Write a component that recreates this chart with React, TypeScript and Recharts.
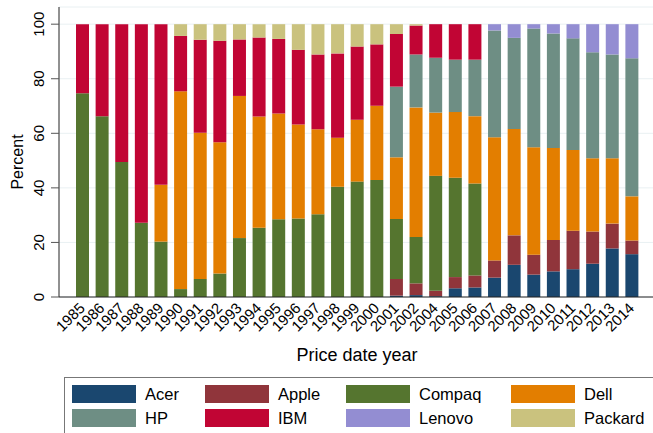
import React from 'react';
import { BarChart, Bar, XAxis, YAxis, CartesianGrid, Label } from 'recharts';

const years = [
  '1985', '1986', '1987', '1988', '1989', '1990', '1991', '1992', '1993', '1994',
  '1995', '1996', '1997', '1998', '1999', '2000', '2001', '2002', '2004', '2005',
  '2006', '2007', '2008', '2009', '2010', '2011', '2012', '2013', '2014',
];

const acer = [0, 0, 0, 0, 0, 0, 0, 0, 0, 0, 0, 0, 0, 0, 0, 0, 0.5, 0.7, 0.3, 3.2, 3.5, 7.1, 11.8, 8.2, 9.4, 10.2, 12.2, 17.8, 15.7];
const apple = [0, 0, 0, 0, 0, 0, 0, 0, 0, 0, 0, 0, 0, 0, 0, 0, 6.1, 4.3, 2.0, 4.1, 4.4, 6.3, 10.8, 7.3, 11.5, 14.1, 11.8, 9.1, 5.0];
const compaq = [74.7, 66.3, 49.5, 27.2, 20.3, 2.9, 6.6, 8.6, 21.6, 25.4, 28.5, 28.8, 30.3, 40.4, 42.3, 42.9, 22.0, 17.0, 42.1, 36.4, 33.7, 0, 0, 0, 0, 0, 0, 0, 0];
const dell = [0, 0, 0, 0, 20.8, 72.5, 53.6, 48.1, 52.1, 40.8, 38.8, 34.4, 31.2, 18.0, 22.7, 27.2, 22.6, 47.5, 23.2, 24.1, 24.7, 45.2, 39.0, 39.4, 33.7, 29.6, 26.9, 24.0, 16.2];
const hp = [0, 0, 0, 0, 0, 0, 0, 0, 0, 0, 0, 0, 0, 0, 0, 0, 25.9, 19.4, 20.1, 19.2, 20.7, 39.1, 33.4, 43.5, 42.0, 40.9, 38.8, 38.0, 50.6];
const ibm = [25.3, 33.7, 50.5, 72.8, 58.9, 20.3, 34.1, 37.2, 20.7, 28.9, 27.3, 27.4, 27.4, 30.9, 26.8, 22.5, 19.3, 10.6, 12.3, 13.0, 13.0, 0, 0, 0, 0, 0, 0, 0, 0];
const lenovo = [0, 0, 0, 0, 0, 0, 0, 0, 0, 0, 0, 0, 0, 0, 0, 0, 0, 0, 0, 0, 0, 2.3, 5.0, 1.6, 3.4, 5.2, 10.3, 11.1, 12.5];
const packard = [0, 0, 0, 0, 0, 4.3, 5.7, 6.1, 5.6, 4.9, 5.4, 9.4, 11.1, 10.7, 8.2, 7.4, 3.6, 0.5, 0, 0, 0, 0, 0, 0, 0, 0, 0, 0, 0];

const yTicks = [0, 20, 40, 60, 80, 100];

const series = [
  { key: 'Acer', values: acer },
  { key: 'Apple', values: apple },
  { key: 'Compaq', values: compaq },
  { key: 'Dell', values: dell },
  { key: 'HP', values: hp },
  { key: 'IBM', values: ibm },
  { key: 'Lenovo', values: lenovo },
  { key: 'Packard', values: packard },
];

const COLORS: Record<string, string> = {
  Acer: '#1a476f',
  Apple: '#90353b',
  Compaq: '#55752f',
  Dell: '#e37e00',
  HP: '#6e8e84',
  IBM: '#c10534',
  Lenovo: '#938dd2',
  Packard: '#cac27e',
};

const data = years.map((year, i) => {
  const row: Record<string, string | number> = { year };
  series.forEach((s) => {
    row[s.key] = s.values[i];
  });
  return row;
});

const FONT = '"Liberation Sans", Arial, Helvetica, sans-serif';

const XTick = (props: any) => {
  const { x, y, payload } = props;
  return (
    <g transform={`translate(${x + 3},${y + 12})`}>
      <text textAnchor="end" transform="rotate(-45)" fontSize={15} fill="#000" fontFamily={FONT}>
        {payload.value}
      </text>
    </g>
  );
};

const YTick = (props: any) => {
  const { y, payload } = props;
  return (
    <g transform={`translate(44,${y})`}>
      <text textAnchor="middle" transform="rotate(-90)" fontSize={15} fill="#000" fontFamily={FONT}>
        {payload.value}
      </text>
    </g>
  );
};

const YTitle = () => (
  <text
    x={0}
    y={0}
    transform="translate(23,162) rotate(-90)"
    textAnchor="middle"
    fontSize={16}
    fill="#000"
    fontFamily={FONT}
  >
    Percent
  </text>
);

const XTitle = () => (
  <text x={357} y={361} textAnchor="middle" fontSize={18} fill="#000" fontFamily={FONT}>
    Price date year
  </text>
);

export default function App() {
  return (
    <div
      style={{
        position: 'absolute',
        left: 0,
        top: 0,
        width: 653,
        height: 433,
        overflow: 'hidden',
        background: '#fff',
        fontFamily: FONT,
      }}
    >
      <BarChart
        width={653}
        height={433}
        data={data}
        margin={{ top: 7, right: 0, left: 0, bottom: 76 }}
        barSize={13}
      >
        <CartesianGrid vertical={false} stroke="#e9f0f2" />
        <XAxis
          dataKey="year"
          type="category"
          interval={0}
          height={60}
          tickLine={false}
          tickSize={0}
          tickMargin={0}
          padding={{ left: 14, right: 11 }}
          axisLine={{ stroke: '#222' }}
          tick={<XTick />}
        >
          <Label content={<XTitle />} />
        </XAxis>
        <YAxis
          type="number"
          width={59}
          domain={[0, 106.3]}
          ticks={yTicks}
          tickSize={8}
          tickLine={{ stroke: '#555' }}
          axisLine={{ stroke: '#222' }}
          tick={<YTick />}
          allowDataOverflow
        >
          <Label content={<YTitle />} />
        </YAxis>
        {series.map((s) => (
          <Bar
            key={s.key}
            dataKey={s.key}
            stackId="a"
            fill={COLORS[s.key]}
            isAnimationActive={false}
          />
        ))}
      </BarChart>
      <div
        style={{
          position: 'absolute',
          left: 64,
          top: 377,
          width: 620,
          height: 70,
          border: '1px solid #777',
          boxSizing: 'border-box',
        }}
      >
        {series.map((s, i) => {
          const col = i % 4;
          const row = Math.floor(i / 4);
          const colX = [7, 140, 281, 446][col];
          const rowY = [7, 31][row];
          return (
            <div key={s.key} style={{ position: 'absolute', left: colX, top: rowY, height: 18, display: 'flex', alignItems: 'center' }}>
              <div style={{ width: 64, height: 18, background: COLORS[s.key] }} />
              <span style={{ marginLeft: 9, fontSize: 16.5, color: '#000', lineHeight: '18px' }}>{s.key}</span>
            </div>
          );
        })}
      </div>
    </div>
  );
}
